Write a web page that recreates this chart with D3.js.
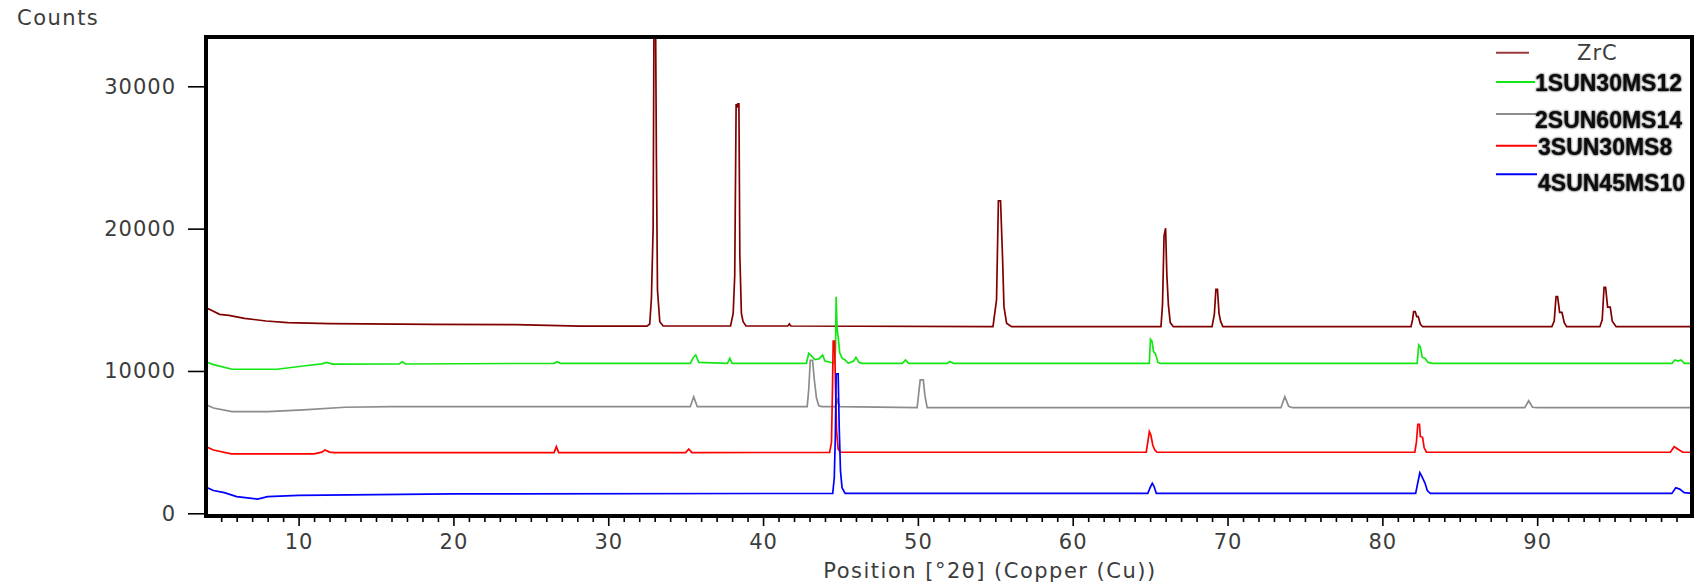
<!DOCTYPE html>
<html>
<head>
<meta charset="utf-8">
<script src="https://cdn.jsdelivr.net/npm/d3@7"></script>
<style>
  html, body { margin: 0; padding: 0; background: #fff; }
  svg { display: block; }
</style>
</head>
<body>
<svg id="chart"></svg>
<script>
// series: [2theta, counts]
const zrcData = [
  [4.0,14450],[4.3,14300],[4.9,13980],[5.5,13900],[6.5,13700],[7.9,13510],[9.3,13390],[12,13330],
  [18.7,13280],[24,13250],[28.2,13150],[32.5,13150],[32.68,13300],[32.79,15110],[32.9,20070],
  [32.96,36000],[33.05,36000],[33.11,25130],[33.18,15690],[33.33,13460],[33.55,13160],
  [37.9,13160],[38.07,14050],[38.17,16700],[38.26,28760],[38.32,28500],[38.38,28760],[38.44,28760],
  [38.5,18150],[38.6,14050],[38.71,13460],[38.9,13160],[41.6,13160],[41.7,13300],[41.8,13160],
  [54.85,13110],[55.08,14990],[55.2,21950],[55.34,21950],[55.47,17920],[55.56,14520],[55.73,13350],
  [56.05,13110],[65.7,13110],[65.8,14640],[65.9,19500],[66.0,20030],[66.08,16750],[66.18,14640],
  [66.3,13400],[66.5,13110],[69.0,13110],[69.15,14000],[69.25,15740],[69.35,15740],[69.45,14050],
  [69.55,13500],[69.7,13110],[81.85,13110],[81.95,13600],[82.02,14170],[82.12,14170],[82.22,13820],
  [82.32,13820],[82.45,13300],[82.6,13110],[90.95,13110],[91.1,13500],[91.22,15220],[91.32,15220],
  [91.45,14120],[91.6,14120],[91.75,13400],[91.9,13110],[94.05,13110],[94.2,13600],[94.32,15880],
  [94.42,15880],[94.55,14480],[94.72,14480],[94.85,13500],[95.1,13110],[100,13110]
];
const sun1Data = [
  [4.0,10650],[4.5,10450],[5.7,10120],[8.6,10120],[10.3,10350],[11.5,10500],[11.8,10600],[12.2,10480],
  [16.5,10490],[16.7,10650],[16.9,10490],[26.5,10540],[26.7,10650],[26.9,10540],[35.3,10540],
  [35.5,10950],[35.65,11120],[35.85,10600],[37.7,10540],[37.85,10890],[38.0,10540],[42.8,10540],
  [42.95,11240],[43.1,11100],[43.35,10800],[43.6,10850],[43.85,11120],[44.0,10700],[44.6,10540],
  [44.68,11500],[44.72,15220],[44.78,13000],[44.85,12400],[44.95,11300],[45.1,10900],[45.3,10770],
  [45.5,10540],[45.85,10700],[46.0,10960],[46.2,10600],[46.4,10540],[49.0,10540],[49.2,10770],
  [49.4,10540],[51.9,10540],[52.07,10660],[52.3,10540],[64.95,10540],[65.02,12230],[65.12,12100],
  [65.22,11360],[65.35,11200],[65.5,10600],[65.65,10540],[82.25,10540],[82.35,11830],[82.45,11700],
  [82.58,10950],[82.75,10890],[82.95,10600],[83.2,10540],[98.7,10540],[98.9,10770],[99.1,10700],
  [99.3,10770],[99.5,10540],[100,10540]
];
const sun2Data = [
  [4.0,7650],[4.5,7400],[5.7,7140],[8,7150],[10.3,7260],[13,7450],[16,7490],[35.3,7490],[35.52,8190],
  [35.75,7490],[42.85,7490],[42.95,8700],[43.05,10750],[43.2,10750],[43.3,9490],[43.45,8100],
  [43.6,7550],[43.8,7490],[44.7,7490],[44.8,7960],[44.95,7490],[49.95,7420],[50.05,8400],[50.15,9370],
  [50.35,9370],[50.45,8300],[50.6,7420],[73.45,7420],[73.7,8190],[73.95,7520],[74.2,7420],
  [89.2,7420],[89.45,7910],[89.7,7450],[90,7420],[100,7420]
];
const sun3Data = [
  [4.0,4700],[4.5,4450],[5.65,4170],[11,4170],[11.5,4300],[11.7,4450],[12.0,4300],[12.3,4260],
  [26.5,4260],[26.65,4680],[26.8,4260],[35.0,4260],[35.2,4520],[35.4,4260],[44.3,4280],[44.42,5000],
  [44.48,8500],[44.53,12100],[44.62,12100],[44.68,8800],[44.75,5800],[44.85,4500],[45.0,4290],
  [64.75,4290],[64.85,5000],[64.95,5740],[65.05,5500],[65.17,4800],[65.3,4450],[65.45,4290],
  [82.1,4290],[82.2,5000],[82.29,6250],[82.4,6250],[82.45,5400],[82.6,5340],[82.7,4600],[82.85,4290],
  [98.6,4290],[98.85,4680],[99.1,4500],[99.4,4290],[100,4290]
];
const sun4Data = [
  [4.0,1850],[4.5,1600],[5.2,1450],[6,1170],[7.35,1000],[8,1170],[10,1260],[20,1360],[44.5,1400],
  [44.6,2500],[44.67,5500],[44.72,9800],[44.85,9800],[44.92,6000],[45.0,3000],[45.1,1800],[45.3,1400],
  [64.85,1400],[65.0,1800],[65.14,2110],[65.25,1900],[65.4,1400],[82.15,1400],[82.3,2200],
  [82.42,2850],[82.55,2600],[82.76,2110],[82.9,1600],[83.1,1400],[98.7,1400],[98.95,1800],
  [99.2,1700],[99.5,1450],[100,1400]
];

const seriesNames = ["ZrC", "1SUN30MS12", "2SUN60MS14", "3SUN30MS8", "4SUN45MS10"];
const seriesColors = ["#800000", "#14e614", "#8c8c8c", "#ff0000", "#0000ff"];
const xMajorTicks = [10, 20, 30, 40, 50, 60, 70, 80, 90];
const yTicks = [0, 10000, 20000, 30000];

const allSeries = [zrcData, sun1Data, sun2Data, sun3Data, sun4Data];

const W = 1707, H = 588;
const frame = { left: 206, top: 37, right: 1692, bottom: 516 };
const font = "'DejaVu Sans', sans-serif";
const textColor = "#3c3c3c";

const svg = d3.select("#chart").attr("width", W).attr("height", H);
svg.append("rect").attr("width", W).attr("height", H).attr("fill", "#fff");

const x = d3.scaleLinear().domain([4, 100]).range([205.7, 1692]);
const y = d3.scaleLinear().domain([0, 30000]).range([513.3, 86.3]);

const defs = svg.append("defs");
defs.append("clipPath").attr("id", "plotClip")
  .append("rect")
  .attr("x", frame.left).attr("y", frame.top)
  .attr("width", frame.right - frame.left).attr("height", frame.bottom - frame.top);

const glow = defs.append("filter").attr("id", "glow")
  .attr("x", "-5%").attr("y", "-30%").attr("width", "110%").attr("height", "160%");
glow.append("feGaussianBlur").attr("in", "SourceAlpha").attr("stdDeviation", 0.9).attr("result", "b");
const merge = glow.append("feMerge");
merge.append("feMergeNode").attr("in", "b");
merge.append("feMergeNode").attr("in", "SourceGraphic");

// lines
const line = d3.line().x(d => x(d[0])).y(d => y(d[1]));
const plot = svg.append("g").attr("clip-path", "url(#plotClip)");
allSeries.forEach((s, i) => {
  plot.append("path")
    .datum(s)
    .attr("fill", "none")
    .attr("stroke", seriesColors[i])
    .attr("stroke-width", 1.7)
    .attr("stroke-linejoin", "miter")
    .attr("d", line);
});

// x axis: minor + major ticks
const minor = d3.range(5, 100).filter(v => v % 10 !== 0);
svg.append("g")
  .attr("transform", `translate(0, ${frame.bottom})`)
  .call(d3.axisBottom(x).tickValues(minor).tickSize(6).tickFormat(""))
  .call(g => g.select(".domain").remove())
  .call(g => g.selectAll("line").attr("stroke", "#000").attr("stroke-width", 1.6));

svg.append("g")
  .attr("transform", `translate(0, ${frame.bottom})`)
  .call(d3.axisBottom(x).tickValues(xMajorTicks).tickSize(10).tickPadding(8))
  .call(g => g.select(".domain").remove())
  .call(g => g.selectAll("line").attr("stroke", "#000").attr("stroke-width", 1.6))
  .call(g => g.selectAll("text")
    .attr("fill", textColor)
    .style("font-family", font)
    .style("font-size", "21px")
    .style("letter-spacing", "1px"));

// y axis
svg.append("g")
  .attr("transform", `translate(${frame.left - 1}, 0)`)
  .call(d3.axisLeft(y).tickValues(yTicks).tickSize(17).tickPadding(12).tickFormat(d3.format("d")))
  .call(g => g.select(".domain").remove())
  .call(g => g.selectAll("line").attr("stroke", "#000").attr("stroke-width", 1.6))
  .call(g => g.selectAll("text")
    .attr("fill", textColor)
    .style("font-family", font)
    .style("font-size", "21px")
    .style("letter-spacing", "1px"));

// frame
svg.append("rect")
  .attr("x", frame.left).attr("y", frame.top)
  .attr("width", frame.right - frame.left).attr("height", frame.bottom - frame.top)
  .attr("fill", "none").attr("stroke", "#000").attr("stroke-width", 4);

// axis titles
svg.append("text")
  .attr("x", 17).attr("y", 25)
  .attr("fill", textColor)
  .style("font-family", font).style("font-size", "21px").style("letter-spacing", "1.5px")
  .text("Counts");

svg.append("text")
  .attr("x", 990).attr("y", 578)
  .attr("text-anchor", "middle")
  .attr("fill", textColor)
  .style("font-family", font).style("font-size", "21px").style("letter-spacing", "1.5px")
  .text("Position [°2θ] (Copper (Cu))");

// legend
const legendLineY = [52.7, 82, 114, 145.7, 174.3];
const legendTextY = [52.7, 83.3, 120, 146.7, 183.3];
const legendLineEnd = [1529, 1535, 1537, 1537, 1537];
const legend = svg.append("g");
seriesNames.forEach((name, i) => {
  legend.append("line")
    .attr("x1", 1496).attr("x2", legendLineEnd[i])
    .attr("y1", legendLineY[i]).attr("y2", legendLineY[i])
    .attr("stroke", i === 0 ? "#9b3b3b" : seriesColors[i])
    .attr("stroke-width", 2);
  const t = legend.append("text")
    .attr("y", legendTextY[i])
    .attr("dominant-baseline", "central")
    .text(name);
  if (i === 0) {
    t.attr("x", 1577).attr("fill", textColor)
      .style("font-family", font).style("font-size", "21px").style("letter-spacing", "1px");
  } else {
    t.attr("x", i < 3 ? 1535 : 1538).attr("fill", "#111")
      .attr("filter", "url(#glow)")
      .style("font-family", "'Liberation Sans', Arial, sans-serif")
      .style("font-weight", "bold").style("font-size", "23px");
  }
});
</script>
</body>
</html>
